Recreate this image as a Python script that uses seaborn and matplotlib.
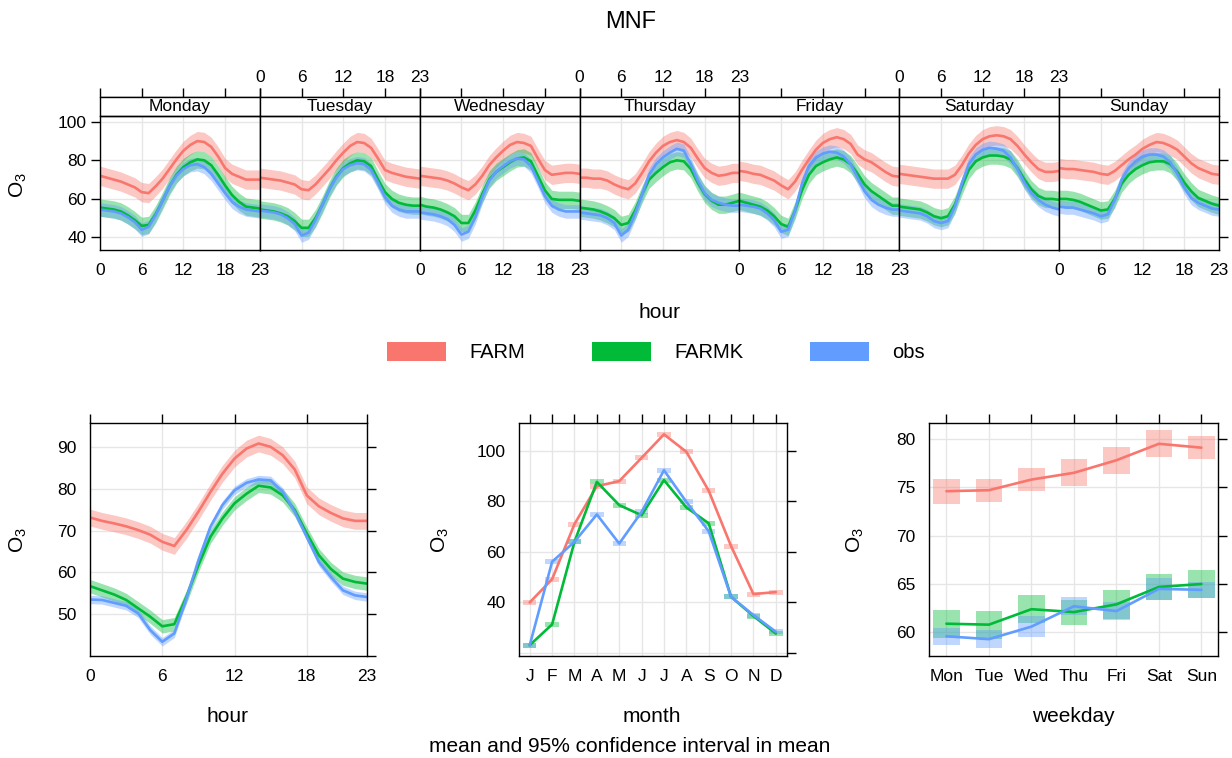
import numpy as np
import pandas as pd
import matplotlib
matplotlib.use("Agg")
import matplotlib.pyplot as plt
import seaborn as sns
from matplotlib.patches import Patch, Rectangle

sns.set_style("white")
plt.rcParams['font.family'] = ['Liberation Sans', 'DejaVu Sans']
plt.rcParams['mathtext.fontset'] = 'custom'
plt.rcParams['mathtext.rm'] = 'Liberation Sans'
plt.rcParams['mathtext.it'] = 'Liberation Sans:italic'
plt.rcParams['text.color'] = 'black'
plt.rcParams['axes.labelcolor'] = 'black'
plt.rcParams['xtick.color'] = 'black'
plt.rcParams['ytick.color'] = 'black'

# ---- data ----
series = ['FARM', 'FARMK', 'obs']
colours = ['#F8766D', '#00BA38', '#619CFF']
days = ['Monday', 'Tuesday', 'Wednesday', 'Thursday', 'Friday', 'Saturday', 'Sunday']
hours = list(range(24))

farm_by_day = [
    [72, 71, 70, 69, 67.5, 66, 63.5, 63, 66.5, 70.5, 75.5, 80.5, 85, 88, 90, 89.5, 87, 82, 76, 73, 71.5, 70, 70, 70],
    [71, 70.5, 70, 69.5, 68.5, 67.5, 65, 64.5, 67.5, 71.5, 75.5, 80, 84, 87.5, 89.5, 89, 86.5, 81, 75, 73.5, 72.5, 71.5, 71, 70.5],
    [72, 71.5, 71, 70.5, 69.5, 68, 66, 64.5, 67.5, 72, 77.5, 81.5, 85, 88, 89.5, 89, 87.5, 81, 75, 72.5, 73, 73.5, 73.5, 73],
    [71, 71, 70.5, 70.5, 69.5, 67.5, 66, 65, 68, 73.5, 79.5, 84, 87.5, 89.5, 90.5, 89.5, 86.5, 81, 76, 73.5, 72, 72.5, 73.5, 73.5],
    [74.5, 74, 73, 72.5, 71, 69.5, 67, 65, 69, 75, 80.5, 85.5, 89, 91, 92, 91, 88.5, 83, 80.5, 79, 76.5, 74, 72, 71.5],
    [73, 72.5, 72, 71.5, 71, 70.5, 70.5, 70.5, 72.5, 77.5, 83.5, 88, 91, 92.5, 93, 92.5, 91, 87.5, 83, 79, 75.5, 74, 74, 74.5],
    [76, 75.5, 75.5, 75, 74.5, 74, 73, 72.5, 74.5, 77.5, 80.5, 83, 86, 88, 89.5, 89, 87.5, 85.5, 82, 78.5, 76, 74.5, 73, 72.5],
]
farmk_by_day = [
    [55.5, 55, 54.5, 53.5, 51.5, 49, 46, 46.5, 52, 59, 66.5, 72.5, 76.5, 79, 80.5, 80, 77.5, 72.5, 67, 62, 58.5, 56, 55.5, 55],
    [54.5, 54, 53.5, 52.5, 51, 48.5, 45, 45, 50, 57, 65, 71.5, 76, 78.5, 80, 79.5, 77, 70, 63.5, 60, 58, 57, 56.5, 56.5],
    [57, 56, 55.5, 54.5, 53, 51, 47.5, 47.5, 54, 62.5, 70, 74, 76.5, 79, 81, 81.5, 79.5, 72, 64.5, 60, 59.5, 59.5, 59.5, 59],
    [55.5, 55, 54.5, 53.5, 52, 50, 46.5, 47.5, 54, 62.5, 70, 73.5, 76.5, 79, 80, 79.5, 75.5, 68.5, 62.5, 59, 57, 57, 58, 59],
    [59, 58, 57, 56, 54, 51, 47, 45.5, 54, 64.5, 72.5, 77, 79, 80.5, 81.5, 80.5, 78, 73, 67.5, 64, 61.5, 59, 56.5, 56.5],
    [56, 55.5, 55, 54.5, 53, 51, 50, 51, 57, 66.5, 75, 79.5, 81.5, 82.5, 82.5, 82, 80.5, 76, 70, 65, 61.5, 60, 60, 59.5],
    [60, 60, 59.5, 58.5, 57, 55.5, 54, 54.5, 60, 68, 72.5, 75.5, 77.5, 79, 79.5, 79.5, 78, 74, 68.5, 64, 60.5, 59, 57.5, 56.5],
]
obs_by_day = [
    [54.5, 54, 53.5, 52.5, 50.5, 48, 44, 45.5, 51.5, 59, 66.5, 72, 75.5, 77.5, 78, 76.5, 73, 68, 63, 58.5, 56, 54.5, 54, 53.5],
    [54, 53.5, 53, 52, 50, 47, 41, 42.5, 49, 57, 65, 71, 75.5, 77.5, 78.5, 78, 75, 68.5, 61, 56.5, 54.5, 53.5, 53.5, 53.5],
    [53, 52.5, 52, 51, 49.5, 46.5, 41.5, 43, 50.5, 61, 69.5, 74, 77, 79.5, 81, 80.5, 77, 69.5, 61.5, 56.5, 54.5, 53.5, 53.5, 53.5],
    [53, 52.5, 52, 51.5, 50, 47.5, 41, 44, 52.5, 62.5, 72.5, 78, 81.5, 84, 86, 85, 78, 69.5, 63, 59.5, 58, 57, 56.5, 56.5],
    [57, 56.5, 56, 55, 52.5, 49, 43, 44, 54, 68, 77, 81.5, 83.5, 84.5, 84, 82, 78, 71, 64, 59.5, 57, 55.5, 54.5, 54.5],
    [54, 53.5, 53, 52.5, 51, 48.5, 47.5, 48.5, 56, 68, 78, 83, 85.5, 86.5, 86, 85, 81.5, 75.5, 68.5, 63, 59.5, 57, 55.5, 54.5],
    [56, 55.5, 55.5, 54.5, 53.5, 52.5, 51, 52, 59.5, 70, 76, 79.5, 82, 83, 83, 82, 79, 73, 66, 60.5, 58, 56.5, 55, 54.5],
]
day_ci = [5.0, 4.5, 3.5]

hour_farm = [73.1, 72.3, 71.7, 71.0, 70.1, 69.0, 67.3, 66.3, 70.1, 74.5, 79.2, 83.6,
             87.2, 89.6, 90.8, 90.0, 88.0, 84.6, 78.4, 75.8, 74.2, 72.9, 72.3, 72.3]
hour_farmk = [56.7, 55.7, 54.7, 53.4, 51.4, 49.4, 47.1, 47.6, 54.1, 61.7, 68.5, 72.9,
              76.5, 78.8, 80.7, 80.3, 78.4, 74.9, 69.3, 64.1, 60.8, 58.5, 57.7, 57.3]
hour_obs = [53.5, 53.4, 52.7, 52.0, 50.2, 46.2, 43.4, 45.4, 53.7, 62.9, 70.9, 76.1,
            79.6, 81.4, 82.2, 82.0, 79.2, 74.5, 68.5, 62.5, 58.9, 55.7, 54.5, 54.1]
hour_ci = [2.0, 1.6, 1.0]

months = ['J', 'F', 'M', 'A', 'M', 'J', 'J', 'A', 'S', 'O', 'N', 'D']
month_farm = [40.0, 49.2, 71.0, 86.0, 88.0, 97.2, 106.5, 99.6, 84.2, 62.3, 43.3, 44.1]
month_farmk = [23.1, 31.3, 64.0, 87.7, 78.5, 74.5, 88.4, 77.6, 71.3, 42.2, 34.6, 27.7]
month_obs = [23.1, 56.1, 64.0, 74.8, 63.3, 75.8, 92.3, 79.8, 68.2, 42.2, 35.0, 28.4]
month_ci = [1.0, 1.0, 1.0]

wdays = ['Mon', 'Tue', 'Wed', 'Thu', 'Fri', 'Sat', 'Sun']
wday_farm = [74.6, 74.7, 75.8, 76.5, 77.8, 79.5, 79.1]
wday_farmk = [60.9, 60.8, 62.4, 62.1, 62.9, 64.7, 65.0]
wday_obs = [59.6, 59.3, 60.6, 62.7, 62.2, 64.5, 64.4]
wday_farm_ci = [1.3, 1.2, 1.2, 1.4, 1.4, 1.4, 1.2]
wday_farmk_ci = [1.45, 1.45, 1.45, 1.3, 1.5, 1.3, 1.45]
wday_obs_ci = [0.9, 0.9, 1.1, 0.95, 0.95, 1.1, 0.85]

# ---- long tables ----
rows = []
for name, by_day, ci in zip(series, [farm_by_day, farmk_by_day, obs_by_day], day_ci):
    for d, vals in zip(days, by_day):
        for h, v in zip(hours, vals):
            rows.append((name, d, h, v, v - ci, v + ci))
week = pd.DataFrame(rows, columns=['variable', 'day', 'hour', 'value', 'lower', 'upper'])

rows = []
for name, vals, ci in zip(series, [hour_farm, hour_farmk, hour_obs], hour_ci):
    for h, v in zip(hours, vals):
        rows.append((name, h, v, v - ci, v + ci))
hourly = pd.DataFrame(rows, columns=['variable', 'hour', 'value', 'lower', 'upper'])

rows = []
for name, vals, ci in zip(series, [month_farm, month_farmk, month_obs], month_ci):
    for m, v in enumerate(vals, start=1):
        rows.append((name, m, v, v - ci, v + ci))
monthly = pd.DataFrame(rows, columns=['variable', 'month', 'value', 'lower', 'upper'])

rows = []
for name, vals, cis in zip(series, [wday_farm, wday_farmk, wday_obs],
                           [wday_farm_ci, wday_farmk_ci, wday_obs_ci]):
    for w, (v, c) in enumerate(zip(vals, cis), start=1):
        rows.append((name, w, v, v - c, v + c))
weekly = pd.DataFrame(rows, columns=['variable', 'weekday', 'value', 'lower', 'upper'])

# ---- figure ----
W, H = 1232, 758
fig = plt.figure(figsize=(W / 100, H / 100), dpi=100)


def px(x0, y0, x1, y1):
    return [x0 / W, 1 - y1 / H, (x1 - x0) / W, (y1 - y0) / H]


TICK = 12.5
LAB = 15
grid_col = '#E6E6E6'


def style(ax):
    for sp in ax.spines.values():
        sp.set_color('black')
        sp.set_linewidth(1.0)
    ax.grid(True, color=grid_col, lw=1.0)
    ax.set_axisbelow(True)
    ax.tick_params(direction='out', length=6.5, width=1.0, colors='black',
                   labelsize=TICK, pad=3)
    ax.set_xlabel('')
    ax.set_ylabel('')


# top: hour by weekday
pw = (1219 - 100) / 7
strip = 19 / 134
for i, d in enumerate(days):
    ax = fig.add_axes(px(100 + i * pw, 116, 100 + (i + 1) * pw, 250))
    sub = week[week.day == d]
    for name, col in zip(series, colours):
        s = sub[sub.variable == name]
        ax.fill_between(s.hour, s.lower, s.upper, color=col, alpha=0.4, lw=0)
        sns.lineplot(data=s, x='hour', y='value', color=col, lw=1.9, ax=ax, legend=False)
    ax.set_xlim(0, 23)
    ax.set_ylim(33.5, 103)
    style(ax)
    ax.set_xticks([0, 6, 12, 18, 23])
    ax.set_yticks([40, 60, 80, 100])
    ax.tick_params(axis='x', labelbottom=(i % 2 == 0))
    ax.tick_params(axis='y', left=(i == 0), labelleft=(i == 0), right=(i == 6))
    ax.add_patch(Rectangle((0, 1), 1, strip, transform=ax.transAxes, facecolor='white',
                           edgecolor='black', lw=1.0, clip_on=False))
    ax.text(0.5, 1 + strip / 2, d, transform=ax.transAxes, ha='center', va='center',
            fontsize=TICK)
    sec = ax.secondary_xaxis(1 + strip)
    sec.set_xticks([0, 6, 12, 18, 23])
    sec.tick_params(direction='out', length=6.5, width=1.0, labelsize=TICK,
                    labeltop=(i % 2 == 1), pad=2)
    sec.spines['top'].set_linewidth(1.0)

fig.text(18 / W, 1 - 185 / H, r'$\mathrm{O_3}$', rotation=90, ha='center', va='center', fontsize=LAB)
fig.text(660 / W, 1 - 312 / H, 'hour', ha='center', va='center', fontsize=LAB)
fig.text(631 / W, 1 - 22 / H, 'MNF', ha='center', va='center', fontsize=17)

handles = [Patch(facecolor=c, edgecolor='none') for c in colours]
fig.legend(handles, series, loc='center', bbox_to_anchor=(656 / W, 1 - 352 / H), ncol=3,
           frameon=False, fontsize=14.5, handlelength=2.95, handleheight=1.1,
           handletextpad=1.15, columnspacing=3.3)

# bottom left: hour
ax = fig.add_axes(px(90, 423, 367, 656))
for name, col in zip(series, colours):
    s = hourly[hourly.variable == name]
    ax.fill_between(s.hour, s.lower, s.upper, color=col, alpha=0.4, lw=0)
    sns.lineplot(data=s, x='hour', y='value', color=col, lw=1.9, ax=ax, legend=False)
ax.set_xlim(0, 23)
ax.set_ylim(40, 95.7)
style(ax)
ax.set_xticks([0, 6, 12, 18, 23])
ax.set_yticks([40, 50, 60, 70, 80, 90], ['', '50', '60', '70', '80', '90'])
ax.tick_params(top=True, right=True)

# bottom middle: month
ax = fig.add_axes(px(519, 423, 787, 656))
for name, col in zip(series, colours):
    s = monthly[monthly.variable == name]
    ax.bar(s.month, s.upper - s.lower, bottom=s.lower, width=0.6, color=col, alpha=0.4, lw=0)
    sns.lineplot(data=s, x='month', y='value', color=col, lw=1.9, ax=ax, legend=False)
ax.set_xlim(0.52, 12.5)
ax.set_ylim(18.8, 111)
style(ax)
ax.set_xticks(range(1, 13), months)
ax.set_yticks([20, 40, 60, 80, 100], ['', '40', '60', '80', '100'])
ax.tick_params(top=True, right=True)

# bottom right: weekday
ax = fig.add_axes(px(929, 423, 1218, 656))
for name, col in zip(series, colours):
    s = weekly[weekly.variable == name]
    ax.bar(s.weekday, s.upper - s.lower, bottom=s.lower, width=0.62, color=col, alpha=0.4, lw=0)
    sns.lineplot(data=s, x='weekday', y='value', color=col, lw=1.9, ax=ax, legend=False)
ax.set_xlim(0.59, 7.39)
ax.set_ylim(57.56, 81.65)
style(ax)
ax.set_xticks(range(1, 8), wdays)
ax.set_yticks([60, 65, 70, 75, 80])
ax.tick_params(top=True, right=True)

for x, lab in [(228, 'hour'), (652, 'month'), (1073, 'weekday')]:
    fig.text(x / W, 1 - 717 / H, lab, ha='center', va='center', fontsize=LAB)
for x in [18, 440, 855]:
    fig.text(x / W, 1 - 540 / H, r'$\mathrm{O_3}$', rotation=90, ha='center', va='center', fontsize=LAB)
fig.text(630 / W, 1 - 746 / H, 'mean and 95% confidence interval in mean',
         ha='center', va='center', fontsize=LAB)

fig.savefig('out.png', dpi=100)
